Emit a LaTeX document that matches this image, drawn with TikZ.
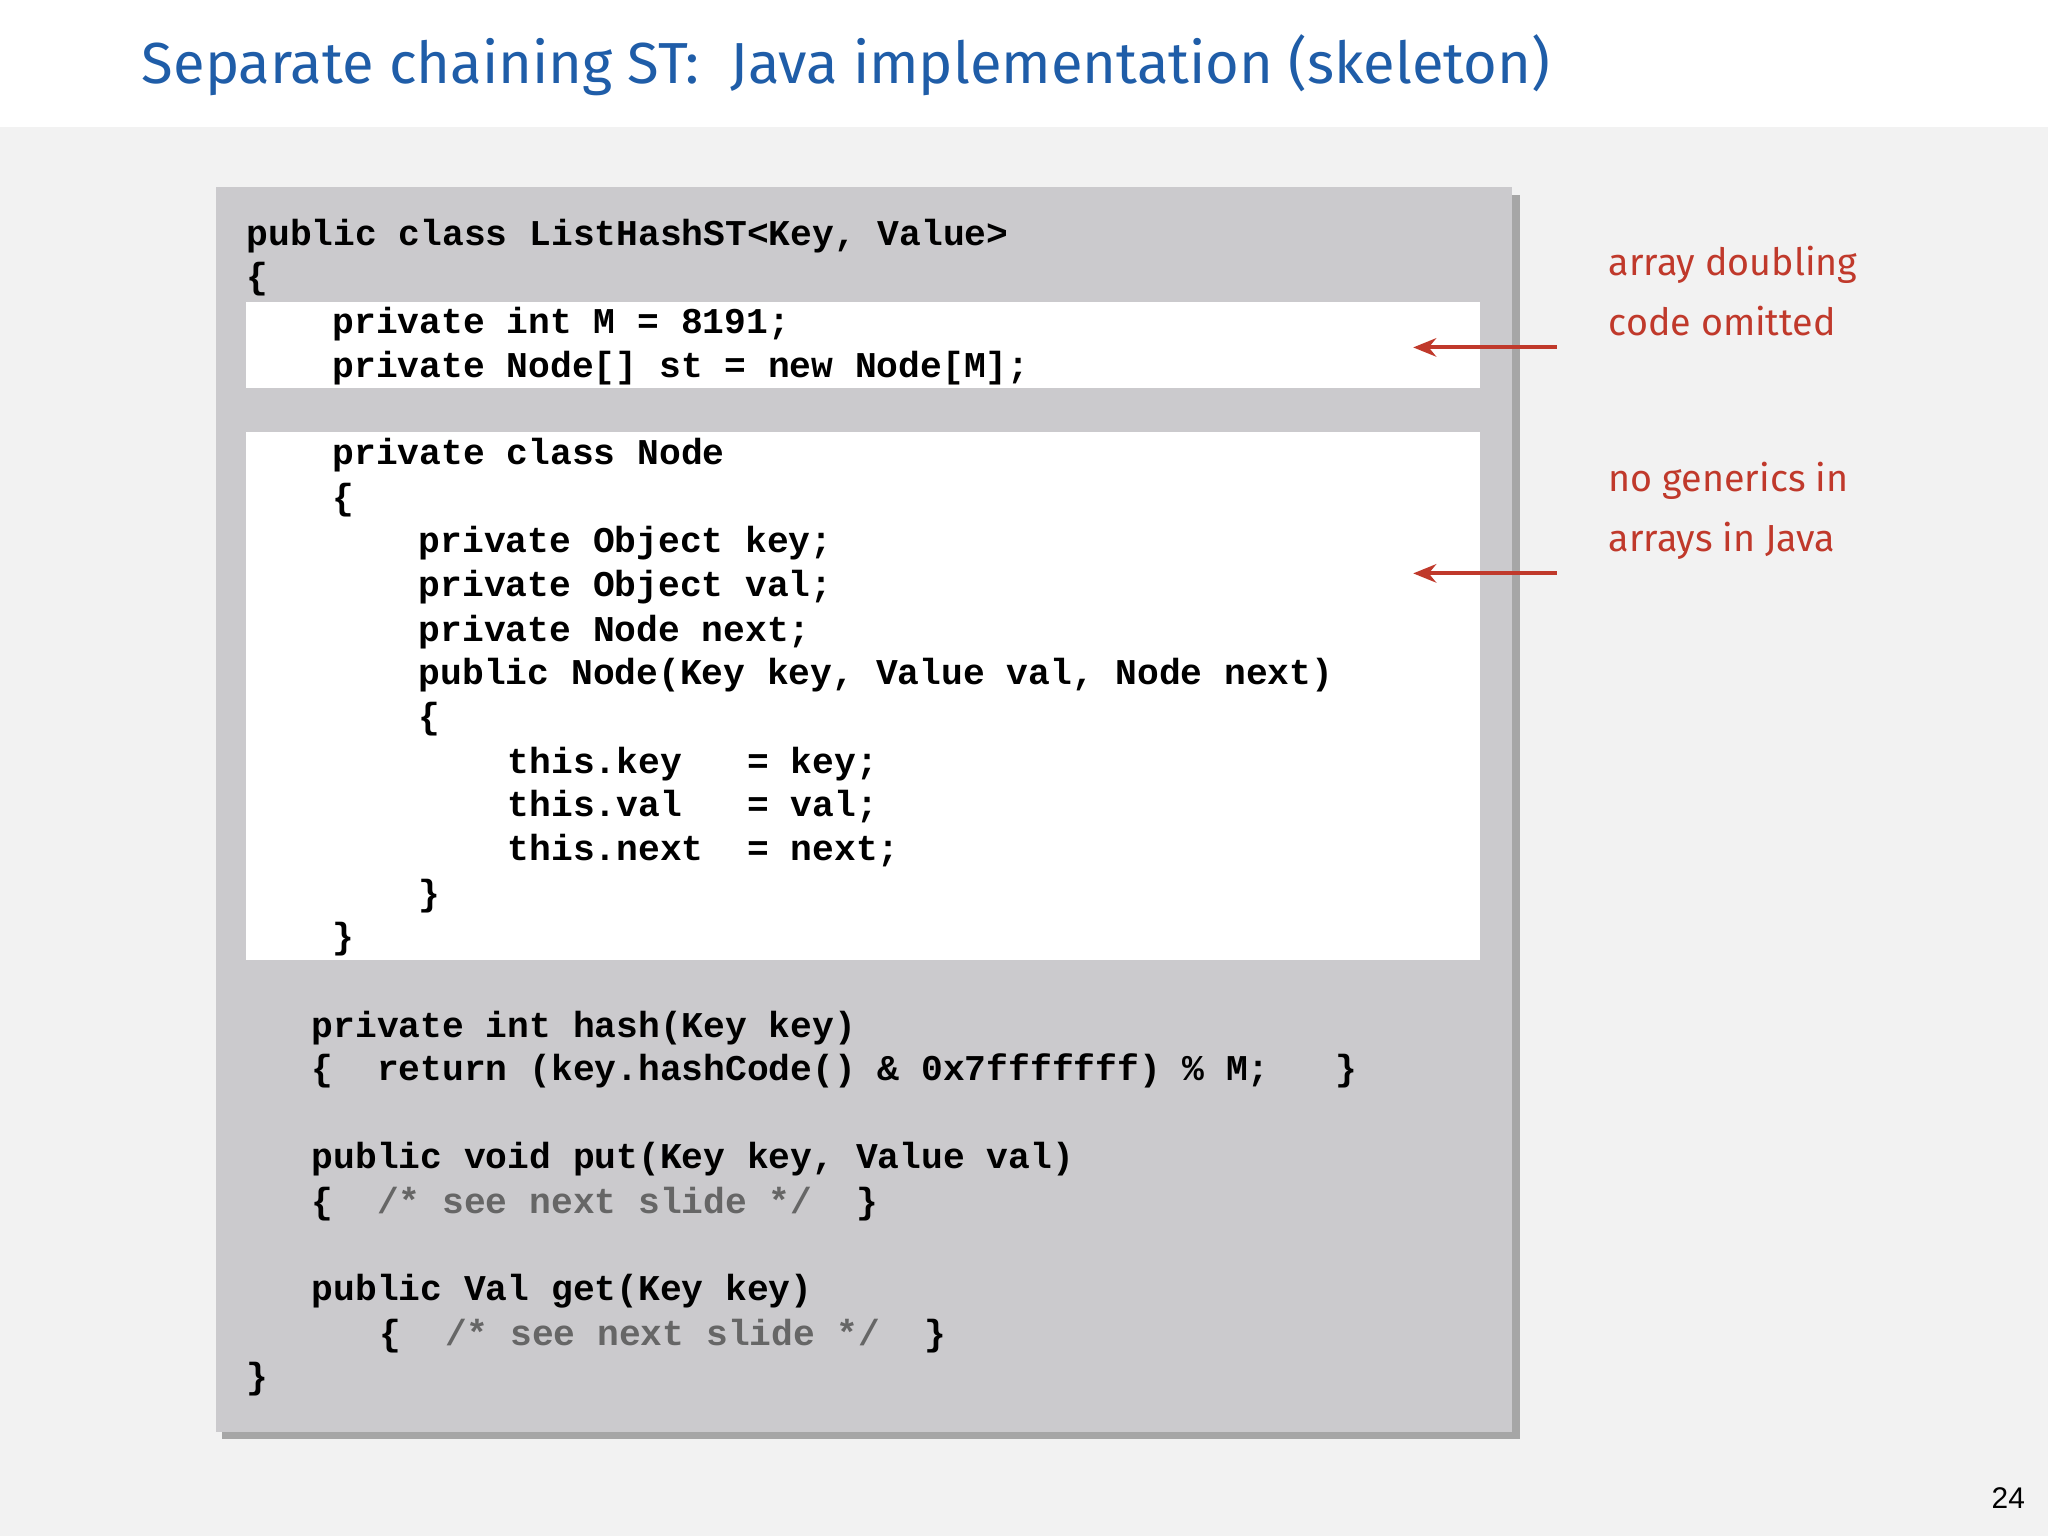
\documentclass[tikz,border=0pt]{standalone}
\usepackage{fontspec}
\setmonofont{Liberation Mono}
\newfontfamily\titlefont{Fira Sans}
\usetikzlibrary{arrows.meta}
\definecolor{ttblue}{HTML}{1F5DA8}
\definecolor{annred}{HTML}{C0392B}
\definecolor{panel}{HTML}{CBCACD}
\definecolor{bg}{HTML}{F2F2F2}
\begin{document}
\begin{tikzpicture}[x=0.01cm,y=-0.01cm,
  code/.style={anchor=base west,inner sep=0,font=\ttfamily\bfseries\fontsize{7.9}{9.5}\selectfont},
  cmt/.style={code,text=black!65},
  ann/.style={anchor=base west,inner sep=0,align=left,text=annred,font=\titlefont\fontsize{8.2}{13}\selectfont},
  arr/.style={draw=annred,line width=0.9pt,-{Stealth[length=5pt,width=4pt]}}]
\useasboundingbox (0,0) rectangle (1568,1176);
\fill[white] (0,0) rectangle (1568,97);
\fill[bg] (0,97) rectangle (1568,1176);
\node[anchor=base west,inner sep=0,text=ttblue,font=\titlefont\fontsize{12.6}{14}\selectfont] (title) at (108,64) {Separate chaining ST:\ \ Java implementation (skeleton)};
\fill[black!35] (170,149) rectangle (1164,1102);
\fill[panel] (165,143) rectangle (1158,1096);
\fill[white] (188,231) rectangle (1133,297);
\fill[white] (188,331) rectangle (1133,735);
\def\L#1#2#3{\node[code] at (#1,#2) {#3};}
\L{188}{188}{public~class~ListHashST<Key,~Value>}
\L{188}{221}{\{}
\L{254}{255}{private~int~M~=~8191;}
\L{254}{289}{private~Node[]~st~=~new~Node[M];}
\L{254}{356}{private~class~Node}
\L{254}{390}{\{}
\L{320}{423}{private~Object~key;}
\L{320}{457}{private~Object~val;}
\L{320}{491}{private~Node~next;}
\L{320}{524}{public~Node(Key~key,~Value~val,~Node~next)}
\L{320}{558}{\{}
\L{388}{592}{this.key~~~=~key;}
\L{388}{625}{this.val~~~=~val;}
\L{388}{659}{this.next~~=~next;}
\L{320}{693}{\}}
\L{254}{726}{\}}
\L{238}{794}{private~int~hash(Key~key)}
\L{238}{827}{\{~~return~(key.hashCode()~\&~0x7fffffff)~\%~M;~~~\}}
\L{238}{895}{public~void~put(Key~key,~Value~val)}
\L{238}{929}{\{~~\textcolor{black!60}{/*~see~next~slide~*/}~~\}}
\L{238}{996}{public~Val~get(Key~key)}
\L{290}{1030}{\{~~\textcolor{black!60}{/*~see~next~slide~*/}~~\}}
\L{188}{1063}{\}}
\coordinate (a1s) at (1192,266); \coordinate (a1e) at (1082,266);
\coordinate (a2s) at (1192,439); \coordinate (a2e) at (1082,439);
\draw[arr] (a1s) -- (a1e);
\draw[arr] (a2s) -- (a2e);
\node[ann] (n1) at (1231,257) {array doubling\\code omitted};
\node[ann] (n2) at (1231,422) {no generics in\\arrays in Java};
\node[anchor=base east,inner sep=0,font=\fontspec{Liberation Sans}\fontsize{6.5}{8}\selectfont] (pg) at (1551,1155) {24};
\end{tikzpicture}
\end{document}
